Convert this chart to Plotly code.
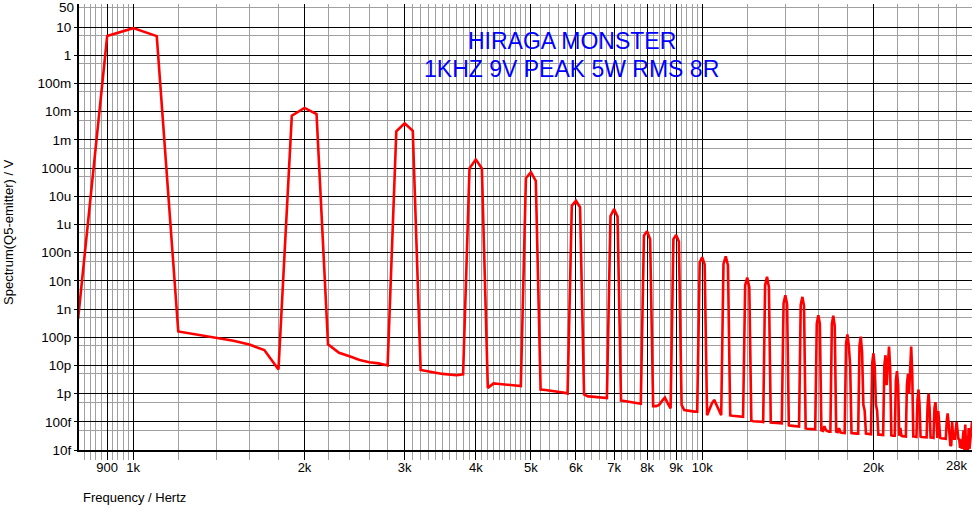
import math
import plotly.graph_objects as go

# ---- data: FFT bins (kHz) and magnitude (V) ----
freq_low_khz = [0.8, 0.9, 1.0, 1.1, 1.2, 1.3, 1.4, 1.5, 1.6, 1.7, 1.8, 1.9, 2.0, 2.1, 2.2, 2.3, 2.4, 2.5,
                2.6, 2.7, 2.8, 2.9, 3.0, 3.1, 3.2, 3.3, 3.4, 3.5, 3.6, 3.7, 3.8, 3.9, 4.0, 4.1, 4.2, 4.3,
                4.4, 4.5, 4.6, 4.7, 4.8, 4.9, 5.0, 5.1, 5.2, 5.3, 5.4, 5.5, 5.6, 5.7, 5.8, 5.9, 6.0, 6.1,
                6.2, 6.3, 6.4, 6.5, 6.6, 6.7, 6.8, 6.9, 7.0, 7.1, 7.2, 7.3, 7.4, 7.5, 7.6, 7.7, 7.8, 7.9,
                8.0, 8.1, 8.2, 8.3, 8.4, 8.5, 8.6, 8.7, 8.8, 8.9, 9.0, 9.1, 9.2, 9.3, 9.4, 9.5, 9.6, 9.7,
                9.8, 9.9, 10.0, 10.1]
mag_low = [4.5e-10, 4.8, 9.2, 4.8, 1.6e-10, 1.2e-10, 9.5e-11, 7.5e-11, 5.5e-11, 3.5e-11, 7.2e-12,
           7.2e-3, 1.36e-2, 8.3e-3, 5.6e-11, 2.8e-11, 2.1e-11, 1.55e-11, 1.3e-11, 1.18e-11, 1.0e-11,
           2.0e-3, 3.9e-3, 2.1e-3, 6.9e-12, 6.0e-12, 5.5e-12, 5.0e-12, 4.6e-12, 4.5e-12, 4.8e-12,
           9.8e-5, 2.0e-4, 9.8e-5, 1.6e-12, 2.3e-12, 2.2e-12, 2.1e-12, 2.0e-12, 1.95e-12, 1.85e-12,
           4.4e-5, 7.1e-5, 3.5e-5, 1.4e-12, 1.35e-12, 1.3e-12, 1.25e-12, 1.15e-12, 1.1e-12, 1.0e-12,
           4.6e-6, 6.9e-6, 4.1e-6, 9.3e-13, 8.0e-13, 7.8e-13, 7.5e-13, 7.3e-13, 7.0e-13, 7.0e-13,
           2.0e-6, 3.5e-6, 1.9e-6, 5.7e-13, 5.5e-13, 5.2e-13, 5.0e-13, 4.8e-13, 4.6e-13, 4.4e-13,
           4.0e-7, 5.8e-7, 3.0e-7, 3.6e-13, 3.6e-13, 4.0e-13, 5.5e-13, 7.2e-13, 4.5e-13, 3.0e-13,
           3.0e-7, 4.2e-7, 2.5e-7, 4.0e-13, 2.6e-13, 2.5e-13, 2.4e-13, 2.4e-13, 2.3e-13, 2.3e-13,
           4.5e-8, 6.9e-8, 3.8e-8]

freq_high_khz = [10.2, 10.3, 10.4, 10.5, 10.6, 10.7, 10.8, 10.9, 11.0, 11.1, 11.2, 11.3, 11.4, 11.5,
                 11.6, 11.7, 11.8, 11.9, 12.0, 12.1, 12.2, 12.3, 12.4, 12.5, 12.6, 12.7, 12.8, 12.9,
                 13.0, 13.1, 13.2, 13.3, 13.4, 13.5, 13.6, 13.7, 13.8, 13.9, 14.0, 14.1, 14.2, 14.3,
                 14.4, 14.5, 14.6, 14.7, 14.8, 14.9, 15.0, 15.1, 15.2, 15.3, 15.4, 15.5, 15.6, 15.7,
                 15.8, 15.9, 16.0, 16.1, 16.2, 16.3, 16.4, 16.5, 16.6, 16.7, 16.8, 16.9, 17.0, 17.1,
                 17.2, 17.3, 17.4, 17.5, 17.6, 17.7, 17.8, 17.9, 18.0, 18.1, 18.2, 18.3, 18.4, 18.5,
                 18.6, 18.7, 18.8, 18.9, 19.0, 19.1, 19.2, 19.3, 19.4, 19.5, 19.6, 19.7, 19.8, 19.9,
                 20.0, 20.1, 20.2, 20.3, 20.4, 20.5, 20.6, 20.7, 20.8, 20.9, 21.0, 21.1, 21.2, 21.3,
                 21.4, 21.5, 21.6, 21.7, 21.8, 21.9, 22.0, 22.1, 22.2, 22.3, 22.4, 22.5, 22.6, 22.7,
                 22.8, 22.9, 23.0, 23.1, 23.2, 23.3, 23.4, 23.5, 23.6, 23.7, 23.8, 23.9, 24.0, 24.1,
                 24.2, 24.3, 24.4, 24.5, 24.6, 24.7, 24.8, 24.9, 25.0, 25.1, 25.2, 25.3, 25.4, 25.5,
                 25.6, 25.7, 25.8, 25.9, 26.0, 26.1, 26.2, 26.3, 26.4, 26.5, 26.6, 26.7, 26.8, 26.9,
                 27.0, 27.1, 27.2, 27.3, 27.4, 27.5, 27.6, 27.7, 27.8, 27.9, 28.0, 28.1, 28.2, 28.3,
                 28.4, 28.5, 28.6, 28.7, 28.8, 28.9, 29.0, 29.1, 29.2, 29.3, 29.4, 29.5, 29.6, 29.7,
                 29.8]
mag_high = [1.7e-13, 3.0e-13, 4.5e-13, 6.0e-13, 4.0e-13, 2.5e-13, 1.7e-13, 4.0e-8, 7.4e-8, 3.5e-8,
            1.7e-13, 1.65e-13, 1.6e-13, 1.6e-13, 1.55e-13, 1.5e-13, 1.5e-13, 7e-9, 1.3e-8, 6e-9,
            1.1e-13, 1.05e-13, 1.05e-13, 1.0e-13, 1.0e-13, 1.0e-13, 9.8e-14, 7e-9, 1.4e-8, 6e-9,
            9.5e-14, 9.3e-14, 9.2e-14, 9.0e-14, 9.0e-14, 9.0e-14, 8.8e-14, 1.6e-9, 3.1e-9, 1.5e-9,
            7.5e-14, 7.3e-14, 7.2e-14, 7.0e-14, 7.0e-14, 6.9e-14, 6.8e-14, 1.4e-9, 2.7e-9, 1.3e-9,
            5.8e-14, 5.7e-14, 5.6e-14, 5.5e-14, 5.5e-14, 5.4e-14, 5.4e-14, 3e-10, 6e-10, 3e-10,
            5e-14, 4.8e-14, 7e-14, 5e-14, 4.6e-14, 4.5e-14, 4.5e-14, 3e-10, 5.8e-10, 2.5e-10,
            4.5e-14, 4.3e-14, 6e-14, 4.2e-14, 4.1e-14, 4.1e-14, 4.0e-14, 6e-11, 1.26e-10, 5e-11,
            1e-11, 4e-14, 3.9e-14, 3.9e-14, 3.8e-14, 3.8e-14, 3.8e-14, 5e-11, 1.05e-10, 3e-11,
            4e-13, 2.5e-13, 3.8e-14, 3.7e-14, 3.7e-14, 3.6e-14, 3.6e-14, 1.2e-11, 2.7e-11, 1e-11,
            4e-13, 2.5e-13, 3.5e-14, 3.5e-14, 3.4e-14, 3.4e-14, 3.4e-14, 1e-11, 2.3e-11, 2e-12,
            2e-11, 4.7e-11, 8e-12, 3.3e-14, 3.2e-14, 3.2e-14, 3.2e-14, 3e-12, 6.3e-12, 2e-12,
            3.2e-14, 6e-14, 3.2e-14, 3.1e-14, 3.1e-14, 3.1e-14, 3.0e-14, 2e-12, 5e-12, 1e-12,
            1.5e-11, 4.7e-11, 5e-12, 3e-14, 3e-14, 2.9e-14, 2.9e-14, 6e-13, 1.4e-12, 4e-13,
            3e-14, 2.9e-14, 2.9e-14, 2.9e-14, 2.8e-14, 2.8e-14, 2.8e-14, 4e-13, 1e-12, 3e-13,
            2.8e-14, 2.8e-14, 2.7e-14, 2.7e-14, 3e-13, 5e-13, 2e-13, 2.7e-14, 2.4e-13, 1e-13,
            2.7e-14, 2.6e-14, 2.6e-14, 2.6e-14, 2.6e-14, 2.5e-14, 2.5e-14, 1e-13, 2e-13, 1e-13,
            3e-14, 1.4e-14, 1.5e-14, 1e-13, 3e-14, 2.5e-14, 2.5e-14, 6e-14, 1e-13, 5e-14,
            2.5e-14, 2.4e-14, 1.2e-14, 2.4e-14, 1.1e-14, 2.4e-14, 5e-14, 1e-14, 8e-14, 1e-14,
            3e-14, 1e-14, 6e-14, 1.1e-14, 3e-14, 4e-14, 1e-13]

# ---- axis ticks ----
x_major_vals = [900, 1000, 2000, 3000, 4000, 5000, 6000, 7000, 8000, 9000, 10000, 20000]
x_major_text = ["900", "1k", "2k", "3k", "4k", "5k", "6k", "7k", "8k", "9k", "10k", "20k"]
x_minor_vals = ([820, 840, 860, 880, 920, 940, 960, 980, 1200, 1400, 1600, 1800,
                 2200, 2400, 2600, 2800,
                 3100, 3200, 3300, 3400, 3500, 3600, 3700, 3800, 3900,
                 4100, 4200, 4300, 4400, 4500, 4600, 4700, 4800, 4900,
                 5200, 5400, 5600, 5800, 6200, 6400, 6600, 6800,
                 7200, 7400, 7600, 7800, 8200, 8400, 8600, 8800, 9200, 9400, 9600, 9800,
                 12000, 14000, 16000, 18000, 22000, 24000, 26000, 28000])
y_major_vals = [1e-14, 1e-13, 1e-12, 1e-11, 1e-10, 1e-9, 1e-8, 1e-7, 1e-6, 1e-5, 1e-4, 1e-3,
                1e-2, 1e-1, 1, 10]
y_major_text = ["10f", "100f", "1p", "10p", "100p", "1n", "10n", "100n", "1u", "10u", "100u",
                "1m", "10m", "100m", "1", "10"]
y_minor_vals = [5e-14, 5e-13, 5e-12, 5e-11, 5e-10, 5e-9, 5e-8, 5e-7, 5e-6, 5e-5, 5e-4, 5e-3,
                5e-2, 5e-1, 5, 50]

freq_hz = [f * 1000 for f in freq_low_khz + freq_high_khz]
mag = mag_low + mag_high

FONT = "Liberation Sans, Arial, sans-serif"
GRAY = "#a0a0a0"

fig = go.Figure()
fig.add_trace(go.Scatter(x=freq_hz, y=mag, mode="lines",
                         line=dict(color="#ff0000", width=2.6), hoverinfo="skip",
                         showlegend=False))

fig.update_layout(
    width=975, height=507,
    margin=dict(l=79, r=3, t=4, b=57),
    paper_bgcolor="white", plot_bgcolor="white",
    font=dict(family=FONT, size=13, color="black"),
    xaxis=dict(type="log", range=[math.log10(803), math.log10(29800)],
               tickmode="array", tickvals=x_major_vals, ticktext=x_major_text, tickangle=0,
               showgrid=True, gridcolor="black", gridwidth=1,
               ticks="outside", ticklen=8, tickcolor="black", tickwidth=1,
               ticklabelstandoff=-4,
               showline=True, linecolor="black", linewidth=2, zeroline=False,
               tickfont=dict(family=FONT, size=13, color="black"),
               minor=dict(tickmode="array", tickvals=x_minor_vals, showgrid=True,
                          gridcolor=GRAY, gridwidth=1, ticks="outside", ticklen=8,
                          tickcolor=GRAY, tickwidth=1)),
    yaxis=dict(type="log", range=[-14, 1.82],
               tickmode="array", tickvals=y_major_vals, ticktext=y_major_text,
               showgrid=True, gridcolor="black", gridwidth=1,
               ticks="outside", ticklen=3, tickcolor="black", tickwidth=1,
               showline=True, linecolor="black", linewidth=2, zeroline=False,
               tickfont=dict(family=FONT, size=13.5, color="black"),
               minor=dict(tickmode="array", tickvals=y_minor_vals, showgrid=True,
                          gridcolor=GRAY, gridwidth=1)),
)

ann = [
    dict(text="HIRAGA MONSTER", xref="paper", yref="paper", x=0.552, y=0.9164,
         xanchor="center", yanchor="middle", showarrow=False,
         font=dict(family=FONT, size=23, color="#0000ff")),
    dict(text="1KHZ 9V PEAK 5W RMS 8R", xref="paper", yref="paper", x=0.552, y=0.855,
         xanchor="center", yanchor="middle", showarrow=False,
         font=dict(family=FONT, size=23, color="#0000ff")),
    dict(text="Spectrum(Q5-emitter) / V", xref="paper", yref="paper", x=-0.0784, y=0.489,
         xanchor="center", yanchor="middle", textangle=-90, showarrow=False,
         font=dict(family=FONT, size=13, color="black")),
    dict(text="Frequency / Hertz", xref="paper", yref="paper", x=0.002, y=-0.1054,
         xanchor="left", yanchor="middle", showarrow=False,
         font=dict(family=FONT, size=13, color="black")),
    dict(text="50", xref="paper", yref="y", x=0, y=math.log10(50), xshift=-3,
         xanchor="right", yanchor="middle", showarrow=False,
         font=dict(family=FONT, size=13.5, color="black")),
    dict(text="28k", xref="x", yref="paper", x=math.log10(28000), y=0, yshift=-6,
         xanchor="center", yanchor="top", showarrow=False,
         font=dict(family=FONT, size=13, color="black")),
]
fig.update_layout(annotations=ann)

fig.write_html("out.html", config={"displayModeBar": False},
               post_script="document.body.style.margin='0';document.body.style.overflow='hidden';")
